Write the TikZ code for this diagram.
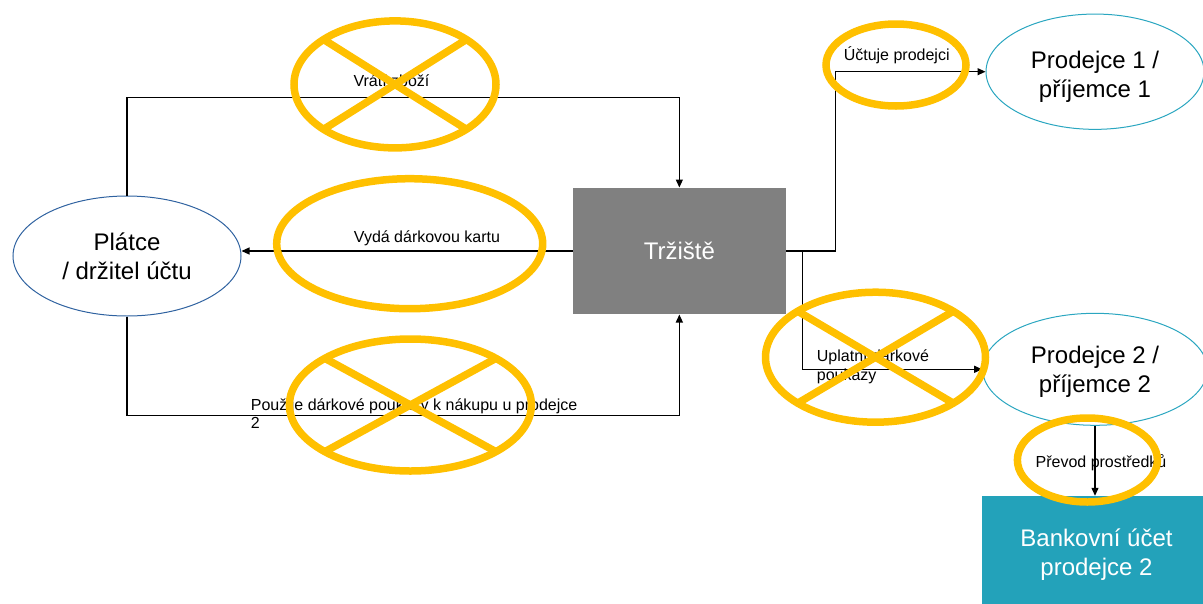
\documentclass[tikz,border=0pt]{standalone}
\usepackage{fontspec}
\setmainfont{Liberation Sans}
\usetikzlibrary{shapes.geometric,arrows.meta}
\definecolor{gold}{HTML}{FFC000}
\definecolor{boxgray}{HTML}{808080}
\definecolor{payerblue}{HTML}{2F62A0}
\definecolor{sellerteal}{HTML}{2AA6C0}
\definecolor{bankteal}{HTML}{23A2BA}
\begin{document}
\begin{tikzpicture}[x=1pt,y=-1pt,
  big/.style={font=\fontsize{24}{29}\selectfont},
  small/.style={font=\fontsize{16}{18.5}\selectfont, inner sep=0pt},
  party/.style={ellipse, draw, line width=1pt, big, align=center, inner sep=0pt},
  partylabel/.style={big, align=center, inner sep=0pt},
  block/.style={rectangle, big, text=white, align=center, inner sep=0pt},
  flow/.style={draw=black, line width=1.2pt, -{Triangle[length=8pt,width=7pt]}},
  goldring/.style={draw=gold, line width=7.5pt},
]
\useasboundingbox (0,0) rectangle (1203,603);
\clip (0,0) rectangle (1203,603);

% parties and the marketplace
\node[party, draw=payerblue, minimum width=228pt, minimum height=120pt] (payer) at (127,256) {Plátce\\/ držitel účtu};
\node[block, fill=boxgray, minimum width=213.3pt, minimum height=126.6pt] (market) at (679.35,251) {Tržiště};
\node[party, draw=sellerteal, minimum width=218pt, minimum height=115.3pt,
      label={[partylabel, yshift=-5pt]center:{Prodejce 1 /\\příjemce 1}}] (seller1) at (1095,71.7) {};
\node[party, draw=sellerteal, minimum width=224.6pt, minimum height=112pt,
      label={[partylabel, yshift=-2pt]center:{Prodejce 2 /\\příjemce 2}}] (seller2) at (1095,369.3) {};
\node[block, fill=bankteal, minimum width=229.6pt, minimum height=118pt] (bank) at (1096.5,555) {Bankovní účet\\prodejce 2};

% routing levels
\coordinate (topy) at (0,97.7);
\coordinate (boty) at (0,415.7);

% connectors
\draw[flow] (payer.north) -- (payer.north |- topy) -| (market.north);
\draw[flow] (payer.south) -- (payer.south |- boty) -| (market.south);
\draw[flow] (market.west) -- (market.west -| payer.east);
\draw[flow] (market.east) -- ++(49,0) |- (seller1.west);
\draw[flow] (market.east) -- ++(16.3,0) |- (seller2.west);
\draw[flow] (seller2.south) -- (seller2.south |- bank.north);

% connector labels
\node[small, anchor=base] (lreturn) at (391.5,86) {Vrátí zboží};
\node[small, anchor=base] (lissue) at (427,242.7) {Vydá dárkovou kartu};
\node[small, anchor=base] (lcharge) at (896.7,60.7) {Účtuje prodejci};
\node[small, anchor=base] (ltransfer) at (1101,467.7) {Převod prostředků};
\node[small, anchor=base west, align=left] (luse) at (250.7,428.5) {Použije dárkové poukazy k nákupu u prodejce\\2};
\node[small, anchor=base west, align=left] (lredeem) at (816.7,380.2) {Uplatní dárkové\\poukazy};

% gold highlight rings, some crossed out
\draw[goldring] (395,84.4) ellipse [x radius=101pt, y radius=63.5pt];
\draw[goldring] (323.6,39.5) -- (466.4,129.3);
\draw[goldring] (323.6,129.3) -- (466.4,39.5);

\draw[goldring] (409.7,243.7) ellipse [x radius=133pt, y radius=65pt];

\draw[goldring] (410.4,405) ellipse [x radius=121pt, y radius=66pt];
\draw[goldring] (324.8,358.3) -- (496,451.7);
\draw[goldring] (324.8,451.7) -- (496,358.3);

\draw[goldring] (875.5,357.2) ellipse [x radius=110pt, y radius=65pt];
\draw[goldring] (797.7,311.2) -- (953.3,403.2);
\draw[goldring] (797.7,403.2) -- (953.3,311.2);

\draw[goldring] (896,65) ellipse [x radius=70pt, y radius=41pt];
\draw[goldring] (1087.4,460) ellipse [x radius=70pt, y radius=42pt];
\end{tikzpicture}
\end{document}
